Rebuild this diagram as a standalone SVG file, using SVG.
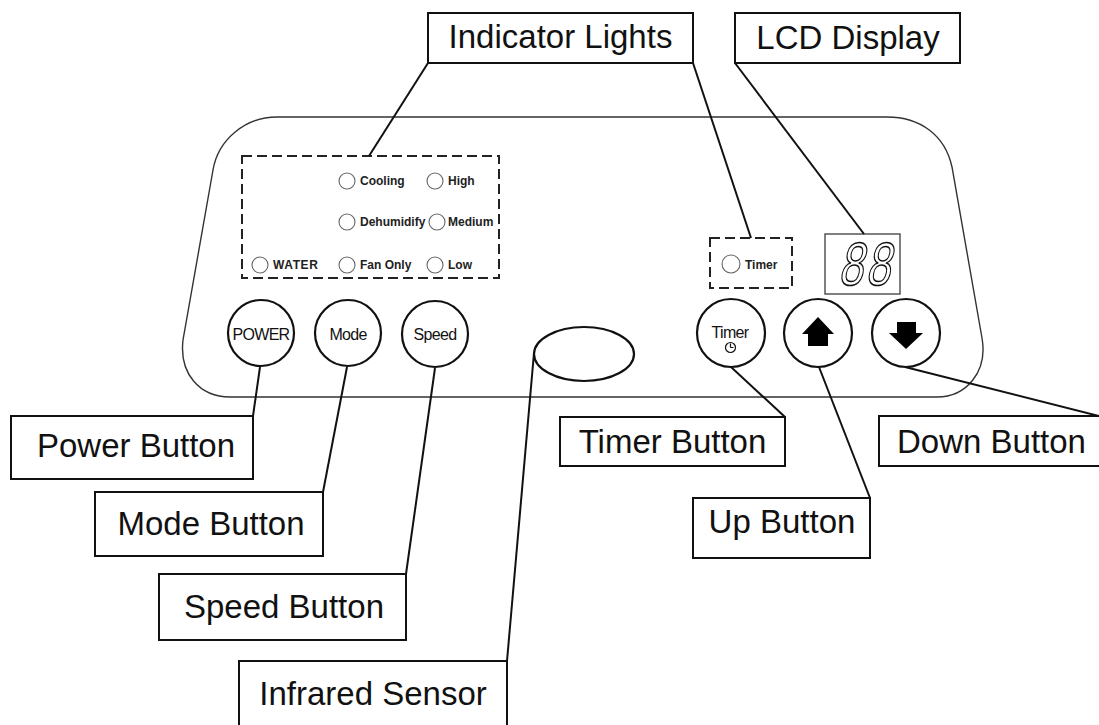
<svg xmlns="http://www.w3.org/2000/svg" width="1099" height="725" viewBox="0 0 1099 725">
<style>
.lbl{fill:#fff;stroke:#111;stroke-width:2}
.lt{font-family:"Liberation Sans",Arial,sans-serif;font-size:33px;fill:#111}
.dash{fill:none;stroke:#222;stroke-width:2;stroke-dasharray:10 5}
.led{fill:#fff;stroke:#666;stroke-width:1.1}
.it{font-family:"Liberation Sans",Arial,sans-serif;font-size:12px;font-weight:bold;fill:#222}
.btn{fill:#fff;stroke:#111;stroke-width:2.2}
.bt{font-family:"Liberation Sans",Arial,sans-serif;font-size:16px;fill:#111;letter-spacing:-0.7px;text-anchor:middle}
.con{stroke:#111;stroke-width:2;fill:none}
</style>
<rect width="1099" height="725" fill="#fff"/>
<g id="panel">
<path d="M277 117 L887 117 C920 117 945 135 952 167 L982 338 C988 372 966 397 937 397 L230 397 C200 397 179 374 183 340 L213 170 C218 140 245 117 277 117 Z" fill="#fff" stroke="#333" stroke-width="1.4"/>
</g>
<g id="indicator-lights-panel">
<rect class="dash" x="242" y="156" width="257" height="122"/>
<circle class="led" cx="347" cy="181" r="8"/><text class="it" x="360" y="185">Cooling</text>
<circle class="led" cx="435" cy="181" r="8"/><text class="it" x="448" y="185">High</text>
<circle class="led" cx="347" cy="222" r="8"/><text class="it" x="360" y="226">Dehumidify</text>
<circle class="led" cx="437" cy="222" r="8"/><text class="it" x="448" y="226">Medium</text>
<circle class="led" cx="260" cy="265" r="8"/><text class="it" x="273" y="269" letter-spacing="0.6">WATER</text>
<circle class="led" cx="347" cy="265" r="8"/><text class="it" x="360" y="269">Fan Only</text>
<circle class="led" cx="435" cy="265" r="8"/><text class="it" x="448" y="269">Low</text>
</g>
<g id="timer-indicator">
<rect class="dash" x="710" y="238" width="82" height="50"/>
<circle class="led" cx="731" cy="264" r="9"/>
<text class="it" x="745" y="269">Timer</text>
</g>
<g id="lcd">
<rect x="825" y="234" width="75" height="60" fill="#fff" stroke="#555" stroke-width="1.5"/>
<text transform="translate(838 285) skewX(-12) scale(0.72 1)" font-family="'Liberation Sans',Arial,sans-serif" font-size="61" fill="none" stroke="#111" stroke-width="1.5" letter-spacing="4">88</text>
</g>
<g id="power-btn"><circle class="btn" cx="261" cy="333" r="33"/><text class="bt" x="261" y="340">POWER</text></g>
<g id="mode-btn"><circle class="btn" cx="348" cy="333" r="33"/><text class="bt" x="348" y="340">Mode</text></g>
<g id="speed-btn"><circle class="btn" cx="435" cy="334" r="33"/><text class="bt" x="435" y="340">Speed</text></g>
<g id="ir-sensor"><ellipse cx="584" cy="354" rx="50" ry="27" fill="#fff" stroke="#111" stroke-width="2.2"/></g>
<g id="timer-btn">
<circle class="btn" cx="731" cy="333" r="34"/>
<text class="bt" x="730" y="338" font-size="15">Timer</text>
<circle cx="730.5" cy="347.5" r="5" fill="none" stroke="#111" stroke-width="1.2"/>
<path d="M730.5 347.5 V343.5 M730.5 347.5 H733.5" stroke="#111" stroke-width="1.2" fill="none"/>
</g>
<g id="up-btn">
<circle class="btn" cx="818" cy="333" r="34"/>
<path d="M818 317 L834 334 L828 334 L828 346 L808 346 L808 334 L802 334 Z" fill="#000"/>
</g>
<g id="down-btn">
<circle class="btn" cx="906" cy="333" r="34"/>
<path d="M897 322 L916 322 L916 333 L923 333 L906 349 L889 333 L897 333 Z" fill="#000"/>
</g>
<g id="connectors">
<line class="con" x1="428" y1="63" x2="369" y2="156"/>
<line class="con" x1="693" y1="63" x2="751" y2="238"/>
<line class="con" x1="735" y1="63" x2="864" y2="234"/>
<line class="con" x1="253" y1="416" x2="260" y2="367"/>
<line class="con" x1="323" y1="492" x2="347" y2="367"/>
<line class="con" x1="406" y1="574" x2="435" y2="368"/>
<line class="con" x1="507" y1="661" x2="534" y2="353"/>
<line class="con" x1="785" y1="417" x2="731" y2="367"/>
<line class="con" x1="870" y1="498" x2="819" y2="367"/>
<line class="con" x1="1099" y1="416" x2="905" y2="367"/>
</g>
<g id="label-indicator-lights"><rect class="lbl" x="428" y="13" width="265" height="50"/><text class="lt" x="560.5" y="48" text-anchor="middle">Indicator Lights</text></g>
<g id="label-lcd"><rect class="lbl" x="735" y="13" width="225" height="50"/><text class="lt" x="848" y="49" text-anchor="middle">LCD Display</text></g>
<g id="label-power"><rect class="lbl" x="11" y="416" width="242" height="63"/><text class="lt" x="136" y="457" text-anchor="middle">Power Button</text></g>
<g id="label-mode"><rect class="lbl" x="95" y="492" width="228" height="64"/><text class="lt" x="211" y="535" text-anchor="middle">Mode Button</text></g>
<g id="label-speed"><rect class="lbl" x="159" y="574" width="247" height="66"/><text class="lt" x="284" y="618" text-anchor="middle">Speed Button</text></g>
<g id="label-infrared"><rect class="lbl" x="239" y="661" width="268" height="80"/><text class="lt" x="373" y="705" text-anchor="middle">Infrared Sensor</text></g>
<g id="label-timer"><rect class="lbl" x="560" y="417" width="225" height="49"/><text class="lt" x="672.5" y="453" text-anchor="middle">Timer Button</text></g>
<g id="label-up"><rect class="lbl" x="693" y="498" width="177" height="60"/><text class="lt" x="782" y="533" text-anchor="middle">Up Button</text></g>
<g id="label-down"><rect class="lbl" x="879" y="416" width="240" height="50"/><text class="lt" x="897" y="453">Down Button</text></g>
</svg>
